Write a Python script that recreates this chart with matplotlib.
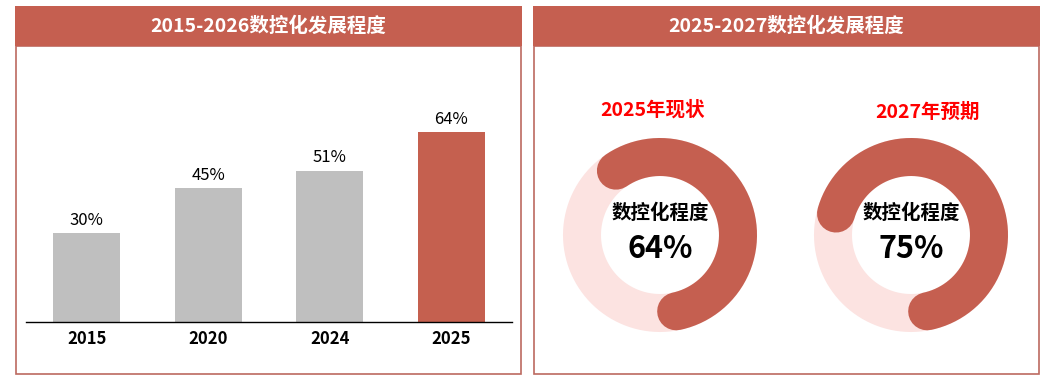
import matplotlib
matplotlib.use('Agg')
import matplotlib.pyplot as plt
import numpy as np
from matplotlib.patches import Rectangle

plt.rcParams['font.family'] = ['Noto Sans CJK SC', 'DejaVu Sans']

# ---- data ----
left_title = '2015-2026数控化发展程度'
right_title = '2025-2027数控化发展程度'
years = ['2015', '2020', '2024', '2025']
values = [30, 45, 51, 64]
bar_colors = ['#BFBFBF', '#BFBFBF', '#BFBFBF', '#C5604F']
donut_titles = ['2025年现状', '2027年预期']
donut_values = [64, 75]
donut_center_label = '数控化程度'

# ---- layout ----
W, H = 1058, 378
fig = plt.figure(figsize=(W / 100, H / 100), dpi=100)
bg = fig.add_axes([0, 0, 1, 1])
bg.set_xlim(0, W)
bg.set_ylim(H, 0)
bg.axis('off')

RED = '#C55F50'
LIGHT = '#FCE3E1'
BORDER = '#BC6A60'

for x0, x1, title in [(16, 521, left_title), (534, 1039, right_title)]:
    bg.add_patch(Rectangle((x0, 46), x1 - x0, 374 - 46, fill=False, ec=BORDER, lw=1.2))
    bg.add_patch(Rectangle((x0 - 1, 6), x1 - x0 + 1.5, 40, fc=RED, ec='none'))
    bg.text((x0 + x1) / 2, 26, title, color='white', fontsize=14,
            fontweight='bold', ha='center', va='center')

# ---- bar chart ----
base_px, top_px = 322, 60
px_per_unit = 2.97
ax = fig.add_axes([26 / W, (H - base_px) / H, 486 / W, (base_px - top_px) / H])
ax.set_facecolor('none')
x = np.arange(len(years))
ax.bar(x, values, width=0.55, color=bar_colors)
for xi, v in zip(x, values):
    ax.annotate(f'{v}%', (xi, v), xytext=(0, 3), textcoords='offset points',
                ha='center', va='bottom', fontsize=12, color='black')
ax.set_xlim(-0.5, len(years) - 0.5)
ax.set_ylim(0, (base_px - top_px) / px_per_unit)
ax.set_xticks(x)
ax.set_xticklabels(years, fontsize=12, fontweight='bold')
ax.tick_params(axis='x', length=0, pad=6)
ax.set_yticks([])
for s in ['top', 'left', 'right']:
    ax.spines[s].set_visible(False)
ax.spines['bottom'].set_color('black')
ax.spines['bottom'].set_linewidth(1.0)

# ---- donuts ----
centers = [(660, 235), (911, 235)]
title_pos = [(653, 110), (928, 112)]
r_out, r_in = 97, 59
r_mid = (r_out + r_in) / 2
ring_w = r_out - r_in
lw_pt = ring_w * 72 / 100
cap_deg = np.degrees((ring_w / 2) / r_mid)
end_tip = 182.0

for (cx, cy), (tx, ty), title, v in zip(centers, title_pos, donut_titles, donut_values):
    th = np.radians(np.linspace(0, 360, 361))
    bg.plot(cx + r_mid * np.sin(th), cy - r_mid * np.cos(th), color=LIGHT,
            lw=lw_pt, solid_capstyle='butt')
    a0 = end_tip - v / 100 * 360 + cap_deg
    a1 = end_tip - cap_deg
    th = np.radians(np.linspace(a0, a1, 300))
    bg.plot(cx + r_mid * np.sin(th), cy - r_mid * np.cos(th), color=RED,
            lw=lw_pt, solid_capstyle='round')
    bg.text(tx, ty, title, color='#FF0000', fontsize=14, fontweight='bold',
            ha='center', va='center')
    bg.text(cx, cy - 22, donut_center_label, color='black', fontsize=14,
            fontweight='bold', ha='center', va='center')
    bg.text(cx, cy + 14, f'{v}%', color='black', fontsize=22,
            fontweight='bold', ha='center', va='center')

fig.savefig('out.png', dpi=100)
